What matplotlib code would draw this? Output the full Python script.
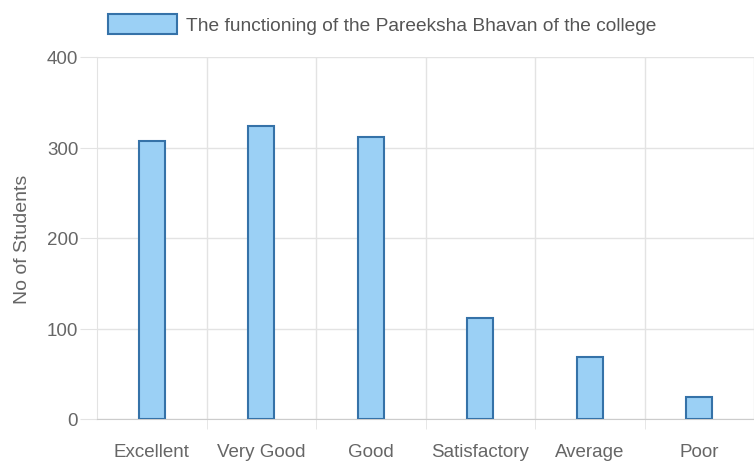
import matplotlib
matplotlib.use("Agg")
import matplotlib.pyplot as plt
from matplotlib import font_manager

categories = ["Excellent", "Very Good", "Good", "Satisfactory", "Average", "Poor"]
students = [307, 324, 312, 112, 68, 24]
series_name = "The functioning of the Pareeksha Bhavan of the college"
y_ticks = [0, 100, 200, 300, 400]

names = {f.name for f in font_manager.fontManager.ttflist}
family = "Liberation Sans Narrow" if "Liberation Sans Narrow" in names else "Liberation Sans"
plt.rcParams["font.family"] = [family, "DejaVu Sans"]

fill = "#9bd0f5"
edge = "#3572a8"
grid = "#e3e3e3"
txt = "#666666"

fig = plt.figure(figsize=(7.54, 4.64), dpi=100)
ax = fig.add_axes([97 / 754, 1 - 420 / 464, 657 / 754, 362 / 464])

x = list(range(len(categories)))
ax.bar(x, students, width=0.24, color=fill, edgecolor=edge, linewidth=1.5,
       label=series_name, zorder=3)

ax.set_xlim(-0.5, len(categories) - 0.5)
ax.set_ylim(0, 400)
ax.set_yticks(y_ticks)
ax.set_xticks(x)
ax.set_xticklabels(categories)
ax.set_xticks([i + 0.5 for i in x], minor=True)

ax.grid(axis="y", color=grid, linewidth=1, zorder=0)
ax.grid(axis="x", which="minor", color=grid, linewidth=1, zorder=0)
for s in ["top", "right"]:
    ax.spines[s].set_visible(False)
ax.spines["left"].set_color(grid)
ax.spines["bottom"].set_color("#cccccc")

ax.tick_params(axis="y", length=12, color=grid, labelsize=13.5, labelcolor=txt, pad=1.5)
ax.tick_params(axis="x", which="major", length=0, labelsize=13.5, labelcolor=txt, pad=17)
ax.tick_params(axis="x", which="minor", length=7, color=grid)

ax.set_ylabel("No of Students", fontsize=14, color=txt, labelpad=11)

fig.legend(loc="center", bbox_to_anchor=(382 / 754, 1 - 25 / 464), frameon=False,
           fontsize=13.8, handlelength=3.6, handleheight=1.3, handletextpad=0.47,
           labelcolor="#555555")

fig.savefig("out.png", dpi=100)
